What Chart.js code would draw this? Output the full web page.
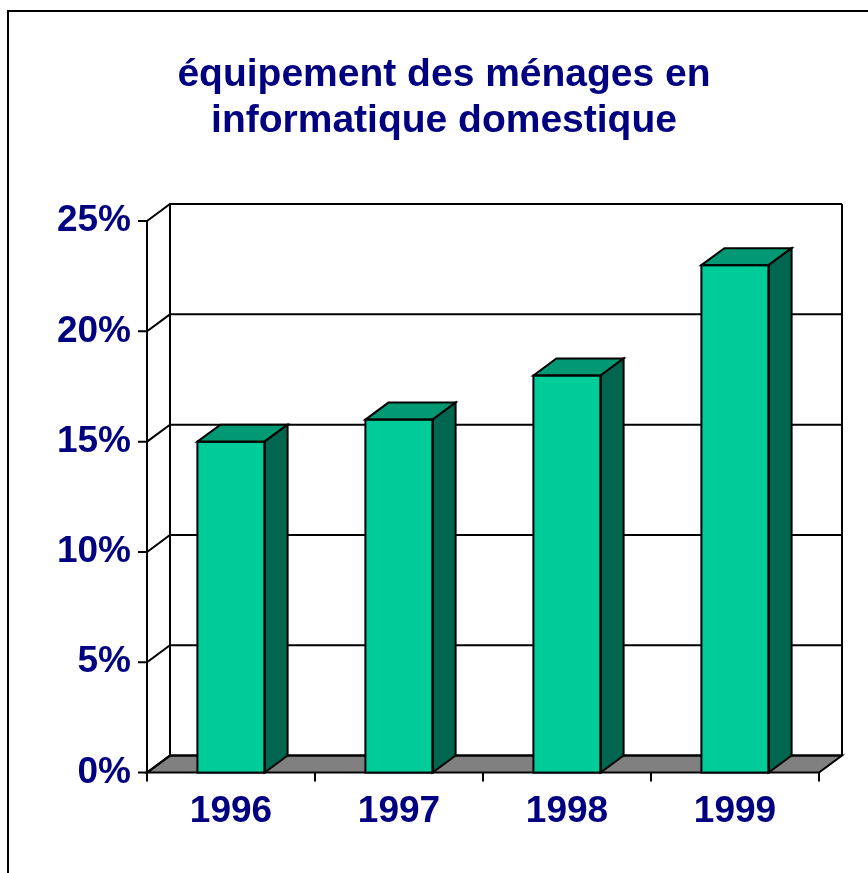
<!DOCTYPE html>
<html>
<head>
<meta charset="utf-8">
<script src="https://cdn.jsdelivr.net/npm/chart.js@4.4.0/dist/chart.umd.min.js"></script>
<style>
  html, body { margin: 0; padding: 0; background: #fff; overflow: hidden; }
  #wrap { position: relative; width: 868px; height: 873px; }
</style>
</head>
<body>
<div id="wrap"><canvas id="equipChart" width="868" height="873"></canvas></div>
<script>
const years = ["1996", "1997", "1998", "1999"];
const equipPct = [15, 16, 18, 23];
const pctTicks = [0, 5, 10, 15, 20, 25];
const titleLines = ["équipement des ménages en", "informatique domestique"];

const DX = 23;   // depth offset of the 3D box
const DY = -17;
const navy = "#000080";
const fontFamily = "'Liberation Sans', Arial, sans-serif";

const box3d = {
  id: "box3d",
  afterLayout(chart) {
    // centre the title over the whole chart frame, not over the padded box
    if (chart.titleBlock) {
      chart.titleBlock.left = 69;
      chart.titleBlock.right = 819;
    }
  },
  beforeDraw(chart) {
    const ctx = chart.ctx;
    ctx.save();
    ctx.fillStyle = "#fff";
    ctx.fillRect(0, 0, chart.width, chart.height);
    ctx.strokeStyle = "#000";
    ctx.lineWidth = 2;
    ctx.strokeRect(8, 11, chart.width + 20, chart.height + 20);
    ctx.restore();
  },
  beforeDatasetsDraw(chart) {
    const { ctx, chartArea: a, scales } = chart;
    const x = scales.x, y = scales.y;
    ctx.save();
    ctx.strokeStyle = "#000";
    ctx.lineWidth = 2;

    // floor
    ctx.beginPath();
    ctx.moveTo(a.left, a.bottom);
    ctx.lineTo(a.right, a.bottom);
    ctx.lineTo(a.right + DX, a.bottom + DY);
    ctx.lineTo(a.left + DX, a.bottom + DY);
    ctx.closePath();
    ctx.fillStyle = "#808080";
    ctx.fill();
    ctx.stroke();

    // gridlines on left + back wall, with tick marks
    pctTicks.forEach((v) => {
      const py = y.getPixelForValue(v);
      ctx.beginPath();
      ctx.moveTo(a.left - 9, py);
      ctx.lineTo(a.left, py);
      ctx.lineTo(a.left + DX, py + DY);
      ctx.lineTo(a.right + DX, py + DY);
      ctx.stroke();
    });

    // wall edges
    ctx.beginPath();
    ctx.moveTo(a.left, a.top);
    ctx.lineTo(a.left, a.bottom);
    ctx.moveTo(a.left + DX, a.top + DY);
    ctx.lineTo(a.left + DX, a.bottom + DY);
    ctx.moveTo(a.right + DX, a.top + DY);
    ctx.lineTo(a.right + DX, a.bottom + DY);
    ctx.stroke();

    // category ticks under the floor
    ctx.beginPath();
    for (let i = 0; i <= years.length; i++) {
      const px = x.getPixelForValue(i - 0.5);
      ctx.moveTo(px, a.bottom);
      ctx.lineTo(px, a.bottom + 9);
    }
    ctx.stroke();
    ctx.restore();
  },
  afterDatasetsDraw(chart) {
    const ctx = chart.ctx;
    const meta = chart.getDatasetMeta(0);
    ctx.save();
    ctx.strokeStyle = "#000";
    ctx.lineWidth = 2;
    meta.data.forEach((bar) => {
      const { x, y, base, width } = bar.getProps(["x", "y", "base", "width"], true);
      const l = x - width / 2;
      const r = x + width / 2;
      // top face
      ctx.beginPath();
      ctx.moveTo(l, y);
      ctx.lineTo(l + DX, y + DY);
      ctx.lineTo(r + DX, y + DY);
      ctx.lineTo(r, y);
      ctx.closePath();
      ctx.fillStyle = "#009973";
      ctx.fill();
      ctx.stroke();
      // side face
      ctx.beginPath();
      ctx.moveTo(r, y);
      ctx.lineTo(r + DX, y + DY);
      ctx.lineTo(r + DX, base + DY);
      ctx.lineTo(r, base);
      ctx.closePath();
      ctx.fillStyle = "#006650";
      ctx.fill();
      ctx.stroke();
      // front outline
      ctx.strokeRect(l, y, width, base - y);
    });
    ctx.restore();
  }
};

const ctx = document.getElementById("equipChart").getContext("2d");

new Chart(ctx, {
  type: "bar",
  data: {
    labels: years,
    datasets: [
      {
        data: equipPct,
        backgroundColor: "#00CC99",
        borderWidth: 0,
        barPercentage: 0.4,
        categoryPercentage: 1.0
      }
    ]
  },
  options: {
    responsive: false,
    animation: false,
    devicePixelRatio: 1,
    layout: {
      padding: { top: 0, left: 30, right: 49, bottom: 22 }
    },
    scales: {
      x: {
        grid: { display: false, drawTicks: false },
        border: { display: false },
        ticks: {
          padding: 17,
          color: navy,
          font: { family: fontFamily, size: 37, weight: "bold" }
        }
      },
      y: {
        min: 0,
        max: 25,
        grid: { display: false, drawTicks: false },
        border: { display: false },
        afterFit: (scale) => { scale.width = 117; },
        ticks: {
          stepSize: 5,
          padding: 16,
          color: navy,
          font: { family: fontFamily, size: 37, weight: "bold" },
          callback: (v) => v + "%"
        }
      }
    },
    plugins: {
      legend: { display: false },
      tooltip: { enabled: false },
      title: {
        display: true,
        text: titleLines,
        color: navy,
        padding: { top: 52, bottom: 77 },
        font: { family: fontFamily, size: 39, weight: "bold", lineHeight: 1.18 }
      }
    }
  },
  plugins: [box3d]
});
</script>
</body>
</html>
